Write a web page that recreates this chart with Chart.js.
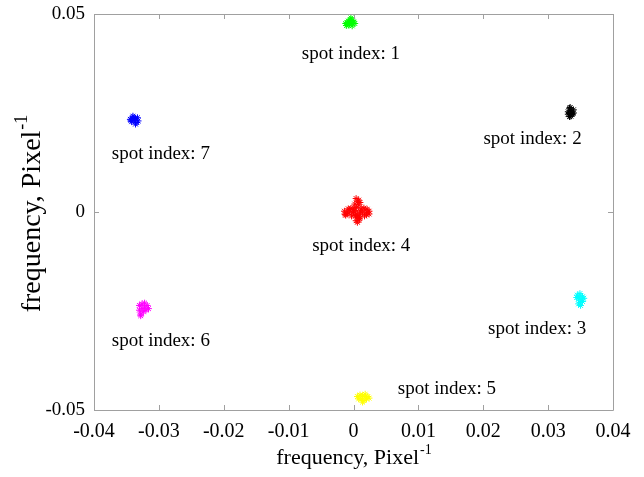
<!DOCTYPE html>
<html><head><meta charset="utf-8">
<script src="https://cdn.jsdelivr.net/npm/chart.js@4/dist/chart.umd.min.js"></script>
<style>html,body{margin:0;padding:0;background:#fff;}canvas{display:block;}</style>
</head><body>
<canvas id="c" width="644" height="477"></canvas>
<script>
// ---- data ----
const xTickValues = [-0.04, -0.03, -0.02, -0.01, 0, 0.01, 0.02, 0.03, 0.04];
const yTickValues = [-0.05, 0, 0.05];
const spotIndex = [1, 2, 3, 4, 5, 6, 7];
const spotColors = ['#00ff00', '#000000', '#00ffff', '#ff0000', '#ffff00', '#ff00ff', '#0000ff'];

const spot1X = [-0.0010,-0.0006,-0.0002,-0.0008,-0.0004,0.0000,-0.0012,-0.0006,-0.0002,0.0002,-0.0008,-0.0004,-0.0011,-0.0001];
const spot1Y = [0.0478,0.0482,0.0476,0.0472,0.0486,0.0480,0.0476,0.0474,0.0470,0.0476,0.0482,0.0490,0.0471,0.0484];
const spot2X = [0.0331,0.0335,0.0339,0.0333,0.0337,0.0335,0.0331,0.0339,0.0334,0.0336,0.0333,0.0337];
const spot2Y = [0.0253,0.0256,0.0250,0.0262,0.0246,0.0242,0.0247,0.0258,0.0264,0.0252,0.0241,0.0249];
const spot3X = [0.0345,0.0349,0.0353,0.0347,0.0351,0.0349,0.0353,0.0347,0.0355,0.0350,0.0344,0.0348];
const spot3Y = [-0.0210,-0.0206,-0.0214,-0.0220,-0.0222,-0.0228,-0.0226,-0.0232,-0.0218,-0.0236,-0.0216,-0.0214];
const spot4X = [-0.0014,-0.0010,-0.0006,-0.0002,0.0002,0.0006,0.0010,0.0014,0.0018,0.0022,0.0024,-0.0012,-0.0004,0.0004,0.0012,0.0020,0.0004,0.0006,0.0008,0.0005,0.0007,0.0009,0.0006,0.0008,0.0003,
                -0.0013,-0.0008,-0.0003,0.0001,0.0009,0.0016,0.0021,0.0024,-0.0009,0.0000,0.0011,0.0017,0.0002,0.0010,0.0004,0.0009];
const spot4Y = [0.0002,-0.0004,0.0006,-0.0002,0.0004,-0.0006,0.0003,-0.0003,0.0005,-0.0001,0.0002,-0.0008,0.0009,-0.0009,0.0008,-0.0007,0.0034,0.0026,0.0018,0.0012,-0.0014,-0.0020,-0.0026,0.0030,-0.0010,
                -0.0006,0.0008,-0.0010,0.0011,-0.0011,0.0010,0.0007,-0.0005,-0.0002,0.0001,0.0000,-0.0010,0.0020,0.0024,-0.0022,-0.0016];
const spot5X = [0.0006,0.0010,0.0014,0.0018,0.0022,0.0024,0.0012,0.0016,0.0020,0.0014,0.0008,0.0018];
const spot5Y = [-0.0466,-0.0462,-0.0464,-0.0460,-0.0466,-0.0470,-0.0472,-0.0476,-0.0472,-0.0480,-0.0472,-0.0466];
const spot6X = [-0.0330,-0.0330,-0.0328,-0.0326,-0.0322,-0.0318,-0.0316,-0.0324,-0.0328,-0.0320,-0.0326,-0.0322];
const spot6Y = [-0.0236,-0.0248,-0.0258,-0.0232,-0.0240,-0.0236,-0.0244,-0.0252,-0.0262,-0.0248,-0.0244,-0.0230];
const spot7X = [-0.0344,-0.0340,-0.0336,-0.0332,-0.0342,-0.0338,-0.0334,-0.0340,-0.0336,-0.0338,-0.0333,-0.0343];
const spot7Y = [0.0234,0.0238,0.0236,0.0230,0.0228,0.0232,0.0226,0.0242,0.0222,0.0236,0.0238,0.0232];

const labelX = [-0.0004, 0.0276, 0.0283, 0.0012, 0.0144, -0.0297, -0.0297];
const labelY = [0.0398, 0.0184, -0.0295, -0.0086, -0.0447, -0.0326, 0.0146];
const axisTitle = 'frequency, Pixel';
const axisTitleSup = '-1';

// ---- build ----
const spotXs = [spot1X, spot2X, spot3X, spot4X, spot5X, spot6X, spot7X];
const spotYs = [spot1Y, spot2Y, spot3Y, spot4Y, spot5Y, spot6Y, spot7Y];
const datasets = spotIndex.map((s, i) => ({
  label: 'spot index: ' + s,
  data: spotXs[i].map((x, j) => ({x: x, y: spotYs[i][j]})),
  pointStyle: 'star',
  pointRadius: 3.4,
  pointBorderWidth: 1,
  borderColor: spotColors[i],
  backgroundColor: spotColors[i],
  showLine: false
}));

const FONT = '"Liberation Serif", "Times New Roman", serif';
const fmt = v => String(Number(Number(v).toFixed(2)));

const framePlugin = {
  id: 'frame',
  afterDraw(chart) {
    const ctx = chart.ctx, a = chart.chartArea;
    const xs = chart.scales.x, ys = chart.scales.y;
    ctx.save();
    ctx.strokeStyle = '#a0a0a0';
    ctx.lineWidth = 1;
    ctx.beginPath();
    ctx.rect(Math.round(a.left) + 0.5, Math.round(a.top) + 0.5, Math.round(a.right - a.left), Math.round(a.bottom - a.top));
    const tl = 5;
    xs.ticks.forEach(t => {
      const p = Math.round(xs.getPixelForValue(t.value)) + 0.5;
      ctx.moveTo(p, a.bottom); ctx.lineTo(p, a.bottom - tl);
      ctx.moveTo(p, a.top); ctx.lineTo(p, a.top + tl);
    });
    ys.ticks.forEach(t => {
      const p = Math.round(ys.getPixelForValue(t.value)) + 0.5;
      ctx.moveTo(a.left, p); ctx.lineTo(a.left + tl, p);
      ctx.moveTo(a.right, p); ctx.lineTo(a.right - tl, p);
    });
    ctx.stroke();
    ctx.restore();
  }
};

const labelPlugin = {
  id: 'spotLabels',
  afterDatasetsDraw(chart) {
    const ctx = chart.ctx, xs = chart.scales.x, ys = chart.scales.y;
    ctx.save();
    ctx.fillStyle = '#000';
    ctx.font = '19px ' + FONT;
    ctx.textAlign = 'center';
    ctx.textBaseline = 'middle';
    spotIndex.forEach((s, i) => {
      ctx.fillText('spot index: ' + s, xs.getPixelForValue(labelX[i]), ys.getPixelForValue(labelY[i]));
    });
    ctx.restore();
  }
};

function drawTitle(ctx, cx, baseline, size) {
  const sup = Math.round(size * 0.65);
  ctx.font = size + 'px ' + FONT;
  const w1 = ctx.measureText(axisTitle).width;
  ctx.font = sup + 'px ' + FONT;
  const w2 = ctx.measureText(axisTitleSup).width;
  const start = cx - (w1 + w2) / 2;
  ctx.textAlign = 'left';
  ctx.textBaseline = 'alphabetic';
  ctx.font = size + 'px ' + FONT;
  ctx.fillText(axisTitle, start, baseline);
  ctx.font = sup + 'px ' + FONT;
  ctx.fillText(axisTitleSup, start + w1 + 1, baseline - size * 0.45);
}

const titlePlugin = {
  id: 'axisTitles',
  afterDraw(chart) {
    const ctx = chart.ctx, a = chart.chartArea;
    ctx.save();
    ctx.fillStyle = '#000';
    drawTitle(ctx, (a.left + a.right) / 2, 464, 22);
    ctx.translate(40, (a.top + a.bottom) / 2 + 2);
    ctx.rotate(-Math.PI / 2);
    drawTitle(ctx, 0, 0, 28);
    ctx.restore();
  }
};

new Chart(document.getElementById('c'), {
  type: 'scatter',
  data: { datasets },
  options: {
    responsive: false,
    animation: false,
    layout: { padding: { top: 14, right: 31, left: 0, bottom: 0 } },
    plugins: { legend: { display: false }, tooltip: { enabled: false } },
    scales: {
      x: {
        type: 'linear', min: -0.04, max: 0.04,
        afterBuildTicks: s => { s.ticks = xTickValues.map(v => ({value: v})); },
        afterFit: s => { s.height = 67; s.paddingLeft = 0; s.paddingRight = 0; },
        grid: { display: false, drawTicks: false },
        border: { display: false },
        ticks: { color: '#000', font: { family: FONT, size: 20 }, padding: 10, maxRotation: 0, autoSkip: false, callback: v => fmt(v) }
      },
      y: {
        type: 'linear', min: -0.05, max: 0.05,
        afterBuildTicks: s => { s.ticks = yTickValues.map(v => ({value: v})); },
        afterFit: s => { s.width = 94; s.paddingTop = 0; s.paddingBottom = 0; },
        grid: { display: false, drawTicks: false },
        border: { display: false },
        ticks: { color: '#000', font: { family: FONT, size: 19 }, padding: 9, autoSkip: false, callback: v => fmt(v) }
      }
    }
  },
  plugins: [framePlugin, labelPlugin, titlePlugin]
});
</script>
</body></html>
